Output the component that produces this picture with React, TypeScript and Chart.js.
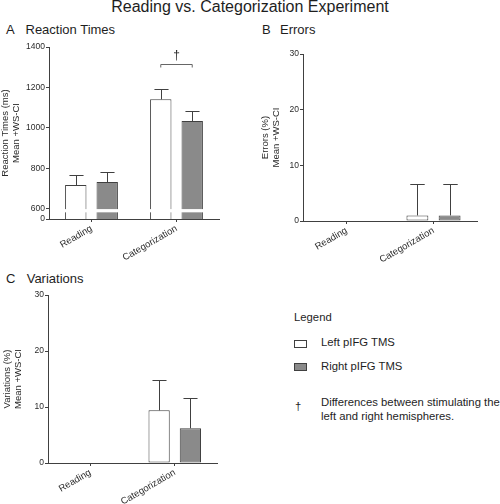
import React, { useEffect, useRef } from 'react';
import { Chart, registerables } from 'chart.js';
Chart.register(...registerables);

const FONT = '"Liberation Sans", Arial, Helvetica, sans-serif';
Chart.defaults.font.family = FONT;

// ---- data ----
const categories = ['Reading', 'Categorization'];
const seriesNames = ['Left pIFG TMS', 'Right pIFG TMS'];

const rtLeft = [717, 1141];
const rtRight = [732, 1034];
const rtLeftCI = [50, 50];
const rtRightCI = [50, 49];
const rtTicks = [600, 800, 1000, 1200, 1400];
const rtOriginValue = 549; // value at the broken axis origin, labelled "0"

const errLeft = [0, 1.0];
const errRight = [0, 1.0];
const errLeftCI = [0, 5.6];
const errRightCI = [0, 5.6];

const varLeft = [0, 9.4];
const varRight = [0, 6.2];
const varLeftCI = [0, 5.4];
const varRightCI = [0, 5.4];

const AX = '#404040';
const TXT = '#2a2a2a';
const GRAY = '#8a8a8a';

const decorPlugin = {
  id: 'decor',
  afterDatasetsDraw(chart: any, _args: any, opts: any) {
    const ctx = chart.ctx;
    const y = chart.scales.y;
    ctx.save();
    // axis break band
    if (opts.brk) {
      chart.data.datasets.forEach((_d: any, i: number) => {
        chart.getDatasetMeta(i).data.forEach((bar: any) => {
          const y1 = y.getPixelForValue(opts.brk[1]);
          const y2 = y.getPixelForValue(opts.brk[0]);
          ctx.fillStyle = '#ffffff';
          ctx.fillRect(bar.x - bar.width / 2 - 1, y1, bar.width + 2, y2 - y1);
        });
      });
    }
    // error bars (upper only)
    if (opts.ci) {
      ctx.strokeStyle = AX;
      ctx.lineWidth = 1;
      chart.data.datasets.forEach((d: any, i: number) => {
        chart.getDatasetMeta(i).data.forEach((bar: any, j: number) => {
          const ci = opts.ci[i][j];
          if (!ci) return;
          const top = Math.round(y.getPixelForValue(d.data[j] + ci)) + 0.5;
          const x = Math.round(bar.x) + 0.5;
          const hw = bar.width * 0.33;
          ctx.beginPath();
          ctx.moveTo(x, bar.y);
          ctx.lineTo(x, top);
          ctx.moveTo(x - hw, top);
          ctx.lineTo(x + hw, top);
          ctx.stroke();
        });
      });
    }
    // significance bracket
    if (opts.bracket) {
      const b = opts.bracket;
      const x1 = chart.getDatasetMeta(0).data[b.index].x;
      const x2 = chart.getDatasetMeta(1).data[b.index].x;
      const yy = Math.round(y.getPixelForValue(b.value)) + 0.5;
      ctx.strokeStyle = '#666666';
      ctx.lineWidth = 1;
      ctx.beginPath();
      ctx.moveTo(x1, yy + 3);
      ctx.lineTo(x1, yy);
      ctx.lineTo(x2, yy);
      ctx.lineTo(x2, yy + 3);
      ctx.stroke();
      ctx.fillStyle = TXT;
      ctx.font = `12px ${FONT}`;
      ctx.textAlign = 'center';
      ctx.textBaseline = 'middle';
      ctx.fillText(b.label, (x1 + x2) / 2, yy - 9);
    }
    ctx.restore();
  },
};

type PanelCfg = {
  left: number; top: number; w: number; h: number;
  area: { left: number; top: number; right: number; bottom: number };
  titlePad: number;
  yTitle: string[];
  l: number[]; r: number[]; lci: number[]; rci: number[];
  min: number; max: number;
  ticks?: number[]; tickLabel?: (v: number) => string;
  brk?: number[]; bracket?: any;
};

function buildConfig(p: PanelCfg): any {
  const yScale: any = {
    type: 'linear',
    min: p.min,
    max: p.max,
    grid: { display: true, drawOnChartArea: false, tickLength: 3, color: AX },
    border: { display: true, color: AX, width: 1 },
    ticks: {
      font: { size: 8.5 },
      color: TXT,
      padding: 1,
      autoSkip: false,
      stepSize: 10,
      callback: (v: number) => (p.tickLabel ? p.tickLabel(v) : String(v)),
    },
    title: {
      display: true,
      text: p.yTitle,
      color: TXT,
      font: { size: 9.5, lineHeight: 1.16 },
      padding: { top: p.titlePad, bottom: 0 },
    },
    afterFit: (s: any) => {
      s.width = p.area.left;
      s.paddingTop = 0;
      s.paddingBottom = 0;
    },
  };
  if (p.ticks) {
    yScale.afterBuildTicks = (s: any) => {
      s.ticks = p.ticks!.map((v) => ({ value: v }));
    };
  }
  return {
    type: 'bar',
    data: {
      labels: categories,
      datasets: [
        { label: seriesNames[0], data: p.l, backgroundColor: '#ffffff', borderColor: AX, borderWidth: 1, borderSkipped: false, categoryPercentage: 0.74, barPercentage: 0.68 },
        { label: seriesNames[1], data: p.r, backgroundColor: GRAY, borderColor: AX, borderWidth: 1, borderSkipped: false, categoryPercentage: 0.74, barPercentage: 0.68 },
      ],
    },
    options: {
      responsive: false,
      animation: false,
      events: [],
      layout: { padding: { left: 0, top: p.area.top, right: p.w - p.area.right, bottom: 0 } },
      plugins: {
        legend: { display: false },
        tooltip: { enabled: false },
        decor: { ci: [p.lci, p.rci], brk: p.brk, bracket: p.bracket },
      },
      scales: {
        x: {
          type: 'category',
          grid: { display: true, drawOnChartArea: false, offset: false, tickLength: 3, color: AX },
          border: { display: true, color: AX, width: 1 },
          ticks: { minRotation: 30, maxRotation: 30, font: { size: 9.5 }, color: TXT, padding: 1, autoSkip: false },
          afterFit: (s: any) => {
            s.height = p.h - p.area.bottom;
            s.paddingLeft = 0;
            s.paddingRight = 0;
          },
        },
        y: yScale,
      },
    },
    plugins: [decorPlugin],
  };
}

const panels: PanelCfg[] = [
  {
    left: 0, top: 40, w: 240, h: 232,
    area: { left: 49, top: 7, right: 219, bottom: 179 },
    titlePad: 0,
    yTitle: ['Reaction Times (ms)', 'Mean +WS-CI'],
    l: rtLeft, r: rtRight, lci: rtLeftCI, rci: rtRightCI,
    min: rtOriginValue, max: 1400,
    ticks: [rtOriginValue, ...rtTicks],
    tickLabel: (v: number) => (v === rtOriginValue ? '0' : String(v)),
    brk: [582, 598],
    bracket: { index: 1, value: 1314, label: '\u2020' },
  },
  {
    left: 250, top: 40, w: 250, h: 240,
    area: { left: 53, top: 14, right: 227, bottom: 181 },
    titlePad: 9.5,
    yTitle: ['Errors (%)', 'Mean +WS-CI'],
    l: errLeft, r: errRight, lci: errLeftCI, rci: errRightCI,
    min: 0, max: 30,
  },
  {
    left: 0, top: 270, w: 240, h: 234,
    area: { left: 48, top: 25, right: 217, bottom: 193 },
    titlePad: 2,
    yTitle: ['Variations (%)', 'Mean +WS-CI'],
    l: varLeft, r: varRight, lci: varLeftCI, rci: varRightCI,
    min: 0, max: 30,
  },
];

function Panel({ p }: { p: PanelCfg }) {
  const ref = useRef<HTMLCanvasElement>(null);
  useEffect(() => {
    const chart = new Chart(ref.current as HTMLCanvasElement, buildConfig(p));
    return () => chart.destroy();
  }, []);
  return (
    <canvas
      ref={ref}
      width={p.w}
      height={p.h}
      style={{ position: 'absolute', left: p.left, top: p.top, width: p.w, height: p.h }}
    />
  );
}

const txt = (left: number, top: number, size: number, lh: number, extra: any = {}) => ({
  position: 'absolute' as const,
  left,
  top,
  fontSize: size,
  lineHeight: `${lh}px`,
  whiteSpace: 'nowrap' as const,
  color: '#1e1e1e',
  ...extra,
});

export default function App() {
  return (
    <div style={{ position: 'absolute', left: 0, top: 0, width: 500, height: 504, background: '#fff', fontFamily: FONT, overflow: 'hidden' }}>
      <div style={txt(0, -1, 16, 16, { width: 500, textAlign: 'center' })}>Reading vs. Categorization Experiment</div>

      <div style={txt(6, 23.3, 13, 13)}>A</div>
      <div style={txt(25.5, 23.3, 13, 13)}>Reaction Times</div>
      <div style={txt(262, 23.3, 13, 13)}>B</div>
      <div style={txt(280, 23.3, 13, 13)}>Errors</div>
      <div style={txt(6, 271.7, 13, 13)}>C</div>
      <div style={txt(26.7, 271.7, 13, 13)}>Variations</div>

      {panels.map((p, i) => (
        <Panel key={i} p={p} />
      ))}

      <div style={txt(294, 310.6, 11.3, 13)}>Legend</div>
      <div style={{ position: 'absolute', left: 294, top: 340, width: 11, height: 6, border: `1px solid ${AX}`, background: '#fff' }} />
      <div style={txt(321, 336.3, 11.3, 13)}>{seriesNames[0]}</div>
      <div style={{ position: 'absolute', left: 294, top: 362.5, width: 11, height: 6, border: `1px solid ${AX}`, background: GRAY }} />
      <div style={txt(321, 359.6, 11.3, 13)}>{seriesNames[1]}</div>
      <div style={txt(295, 399.6, 11.3, 13)}>{'\u2020'}</div>
      <div style={txt(321, 396.3, 11.3, 13)}>Differences between stimulating the</div>
      <div style={txt(321, 409.6, 11.3, 13)}>left and right hemispheres.</div>
    </div>
  );
}
